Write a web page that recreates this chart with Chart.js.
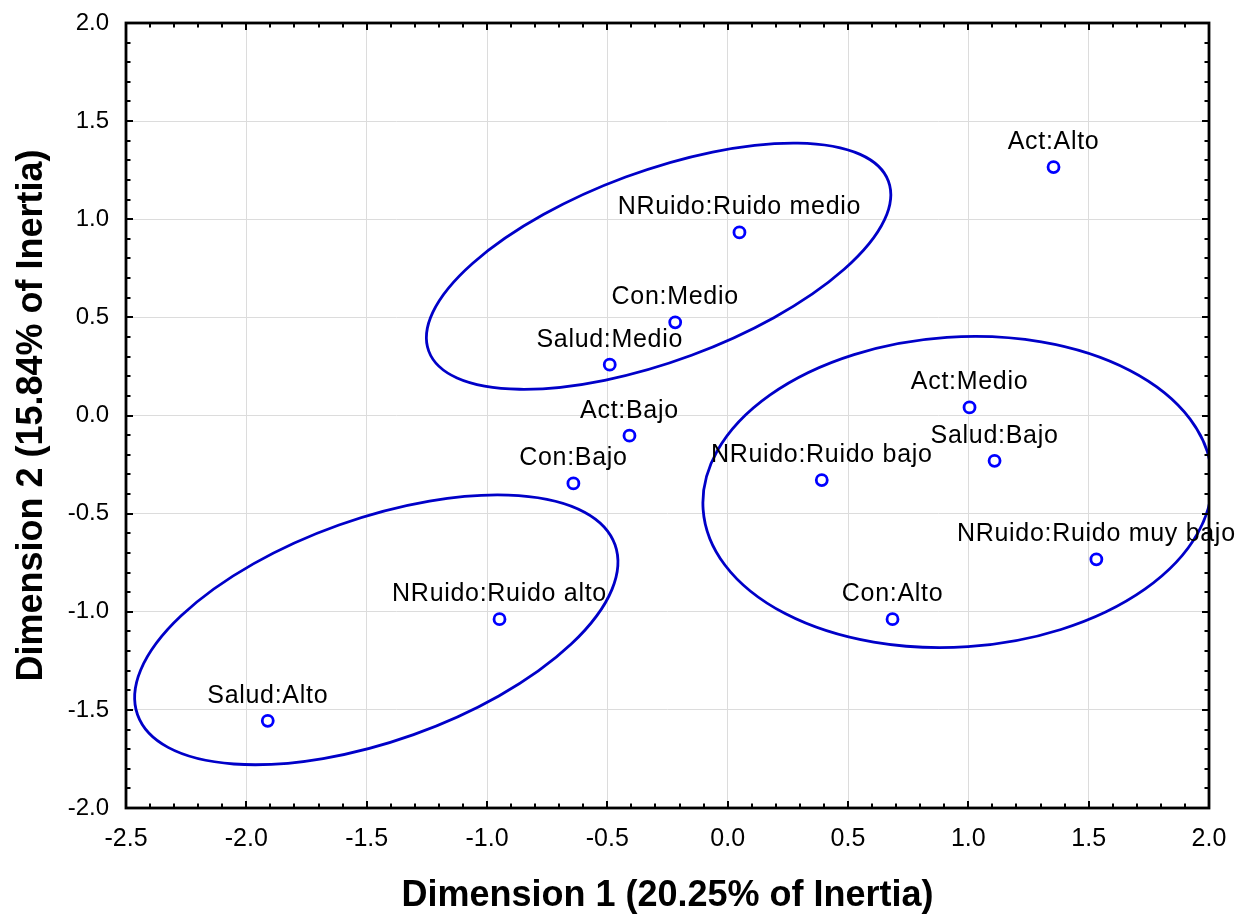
<!DOCTYPE html>
<html><head><meta charset="utf-8">
<script src="https://cdn.jsdelivr.net/npm/chart.js@4/dist/chart.umd.min.js"></script>
<style>html,body{margin:0;padding:0;background:#fff;}#wrap{width:1256px;height:920px;}</style>
</head><body><div id="wrap"><canvas id="c" width="1256" height="920"></canvas></div>
<script>
// ---- data ----
const pointLabels = ["Act:Alto","NRuido:Ruido medio","Con:Medio","Salud:Medio","Act:Bajo","Con:Bajo","NRuido:Ruido bajo","Act:Medio","Salud:Bajo","NRuido:Ruido muy bajo","Con:Alto","NRuido:Ruido alto","Salud:Alto"];
const dim1 = [1.354, 0.049, -0.218, -0.490, -0.408, -0.641, 0.391, 1.005, 1.109, 1.532, 0.685, -0.948, -1.911];
const dim2 = [1.266, 0.933, 0.475, 0.259, -0.103, -0.346, -0.329, 0.041, -0.231, -0.733, -1.038, -1.038, -1.556];
const xTitle = "Dimension 1 (20.25% of Inertia)";
const yTitle = "Dimension 2 (15.84% of Inertia)";
// ellipses (data units): centre and two conjugate semi-axis vectors
const ellCX = [-0.287, 0.955, -1.460];
const ellCY = [0.761, -0.390, -1.092];
const ellUX = [0.955, 1.057, 0.992];
const ellUY = [0.433, 0.088, 0.433];
const ellVX = [0.137, 0.044, 0.155];
const ellVY = [-0.454, -0.788, -0.534];

const FONT = "'Liberation Sans', Arial, sans-serif";

const ellipsePlugin = {
  id: 'ellipses',
  beforeDatasetsDraw(chart) {
    const {ctx, chartArea: a, scales: {x, y}} = chart;
    ctx.save();
    ctx.beginPath(); ctx.rect(a.left, a.top, a.right - a.left, a.bottom - a.top); ctx.clip();
    ctx.strokeStyle = '#0000C8'; ctx.lineWidth = 2.8;
    for (let i = 0; i < ellCX.length; i++) {
      const cx = x.getPixelForValue(ellCX[i]), cy = y.getPixelForValue(ellCY[i]);
      const ux = x.getPixelForValue(ellCX[i] + ellUX[i]) - cx, uy = y.getPixelForValue(ellCY[i] + ellUY[i]) - cy;
      const vx = x.getPixelForValue(ellCX[i] + ellVX[i]) - cx, vy = y.getPixelForValue(ellCY[i] + ellVY[i]) - cy;
      ctx.save();
      ctx.beginPath();
      ctx.transform(ux, uy, vx, vy, cx, cy);
      ctx.arc(0, 0, 1, 0, Math.PI * 2);
      ctx.restore();
      ctx.stroke();
    }
    ctx.restore();
  }
};

const framePlugin = {
  id: 'frame',
  afterDatasetsDraw(chart) {
    const {ctx, chartArea: a, scales: {x, y}} = chart;
    ctx.save();
    ctx.strokeStyle = '#000';
    ctx.lineWidth = 2;
    ctx.beginPath();
    for (let k = 0; k <= 45; k++) {
      const v = -2.5 + k * 0.1;
      const px = Math.round(x.getPixelForValue(v));
      const len = (k % 5 === 0) ? 7 : 4.5;
      ctx.moveTo(px, a.bottom); ctx.lineTo(px, a.bottom - len);
      ctx.moveTo(px, a.top); ctx.lineTo(px, a.top + len);
    }
    for (let k = 0; k <= 40; k++) {
      const v = -2 + k * 0.1;
      const py = Math.round(y.getPixelForValue(v));
      const len = (k % 5 === 0) ? 7 : 4.5;
      ctx.moveTo(a.left, py); ctx.lineTo(a.left + len, py);
      ctx.moveTo(a.right, py); ctx.lineTo(a.right - len, py);
    }
    ctx.stroke();
    ctx.lineWidth = 2.8;
    ctx.strokeRect(a.left, a.top, a.right - a.left, a.bottom - a.top);
    ctx.restore();
  },
  afterDraw(chart) {
    const {ctx} = chart;
    const meta = chart.getDatasetMeta(0);
    ctx.save();
    ctx.font = '25px ' + FONT;
    ctx.fillStyle = '#000';
    ctx.textAlign = 'center';
    ctx.textBaseline = 'alphabetic';
    try { ctx.letterSpacing = '0.7px'; } catch (e) {}
    meta.data.forEach((pt, i) => {
      ctx.fillText(pointLabels[i], pt.x, pt.y - 18);
    });
    ctx.restore();
  }
};

new Chart(document.getElementById('c'), {
  type: 'scatter',
  data: {
    datasets: [{
      data: dim1.map((v, i) => ({x: v, y: dim2[i]})),
      pointRadius: 5.5, pointHoverRadius: 5.5,
      pointBorderWidth: 2.8, borderColor: '#0000FF', backgroundColor: '#FFFFFF',
      pointBackgroundColor: '#FFFFFF', pointBorderColor: '#0000FF'
    }]
  },
  options: {
    responsive: false, animation: false,
    layout: {padding: {top: 23, right: 47, left: 0, bottom: 0}},
    plugins: {legend: {display: false}, tooltip: {enabled: false}},
    scales: {
      x: {
        type: 'linear', min: -2.5, max: 2.0,
        ticks: {stepSize: 0.5, callback: v => Number(v).toFixed(1), color: '#000', font: {family: FONT, size: 25}, padding: 16, maxRotation: 0},
        grid: {color: '#dcdcdc', lineWidth: 1, drawTicks: false},
        border: {display: false},
        title: {display: true, text: xTitle, color: '#000', font: {family: FONT, size: 36, weight: 'bold'}, padding: {top: 0, bottom: 2}},
        afterFit(s) { s.height = 112; s.paddingLeft = 0; s.paddingRight = 0; }
      },
      y: {
        type: 'linear', min: -2.0, max: 2.0,
        ticks: {stepSize: 0.5, callback: v => Number(v).toFixed(1), color: '#000', font: {family: FONT, size: 24}, padding: 17},
        grid: {color: '#dcdcdc', lineWidth: 1, drawTicks: false},
        border: {display: false},
        title: {display: true, text: yTitle, color: '#000', font: {family: FONT, size: 36, weight: 'bold'}, padding: {top: 10, bottom: 0}},
        afterFit(s) { s.width = 126; s.paddingTop = 0; s.paddingBottom = 0; }
      }
    }
  },
  plugins: [ellipsePlugin, framePlugin]
});
</script>
</body></html>
